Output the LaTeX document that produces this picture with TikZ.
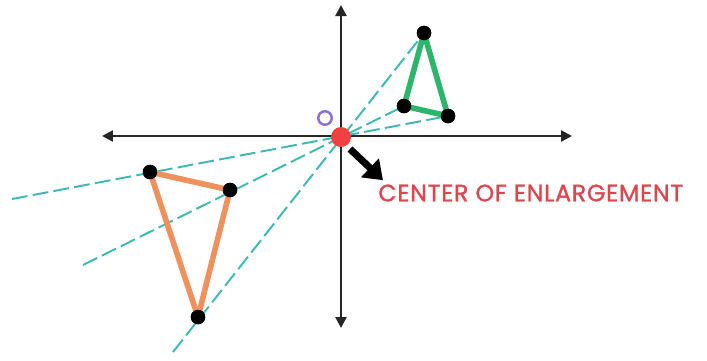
\documentclass[tikz,border=0pt]{standalone}
\usepackage{fontspec}
\setmainfont{Poppins}
\newfontfamily\lblfont[LetterSpace=3,FakeBold=1.2]{Poppins}
\usepackage{xcolor}
\usetikzlibrary{arrows.meta, positioning, calc}

\definecolor{rayteal}{HTML}{3CB9B4}
\definecolor{imggreen}{HTML}{2DB56B}
\definecolor{objorange}{HTML}{EE915C}
\definecolor{centred}{HTML}{F0403F}
\definecolor{labelred}{HTML}{E0454F}
\definecolor{originpurple}{HTML}{8C70D2}

\begin{document}
\begin{tikzpicture}[x=0.02cm, y=-0.02cm,
      axis/.style={{Triangle[length=2.2mm,width=2.2mm]}-{Triangle[length=2.2mm,width=2.2mm]}, line width=1.3pt, black!85},
      ray/.style={dashed, dash pattern=on 9pt off 3pt, line width=1.1pt, color=rayteal},
      vert/.style={circle, fill=black, inner sep=0pt, minimum size=2.9mm},
      pointer/.style={-{Triangle[length=3.6mm,width=5mm]}, line width=4pt, black}]
    \useasboundingbox (0,0) rectangle (707,360);
    % axes
    \coordinate (xl) at (102,136);
    \coordinate (xr) at (572,136);
    \coordinate (yt) at (341,5);
    \coordinate (yb) at (341,328);
    \draw[axis] (xl) -- (xr);
    \draw[axis] (yt) -- (yb);
    % vertices of image (green) and object (orange)
    \node[vert] (g1) at (424,33) {};
    \node[vert] (g2) at (404,106) {};
    \node[vert] (g3) at (448,116) {};
    \node[vert] (o1) at (198,317) {};
    \node[vert] (o2) at (230,190) {};
    \node[vert] (o3) at (150,172) {};
    % free ends of the rays
    \coordinate (e1) at (173,352);
    \coordinate (e2) at (83,265);
    \coordinate (e3) at (12,199);
    \draw[ray] (e1) -- (g1.center);
    \draw[ray] (e2) -- (g2.center);
    \draw[ray] (e3) -- (g3.center);
    % triangles
    \draw[imggreen, line width=3.2pt, line join=round] (g1.center) -- (g2.center) -- (g3.center) -- cycle;
    \draw[objorange, line width=3.2pt, line join=round] (o1.center) -- (o2.center) -- (o3.center) -- cycle;
    \foreach \v in {g1,g2,g3,o1,o2,o3} \node[vert] at (\v) {};
    % centre and origin
    \node[circle, fill=centred, inner sep=0pt, minimum size=4mm] (ctr) at (341,137) {};
    \node[circle, draw=originpurple, line width=1.4pt, inner sep=0pt, minimum size=2.7mm] (org) at (325,118) {};
    \node[text=labelred, font=\lblfont\fontsize{13.5}{16}\selectfont, anchor=west, inner sep=0pt] (lbl) at (378,193) {CENTER OF ENLARGEMENT};
    \coordinate (pt) at (350,149);
    \draw[pointer] (pt) -- ($(lbl.north west)+(5,-4)$);
\end{tikzpicture}
\end{document}
